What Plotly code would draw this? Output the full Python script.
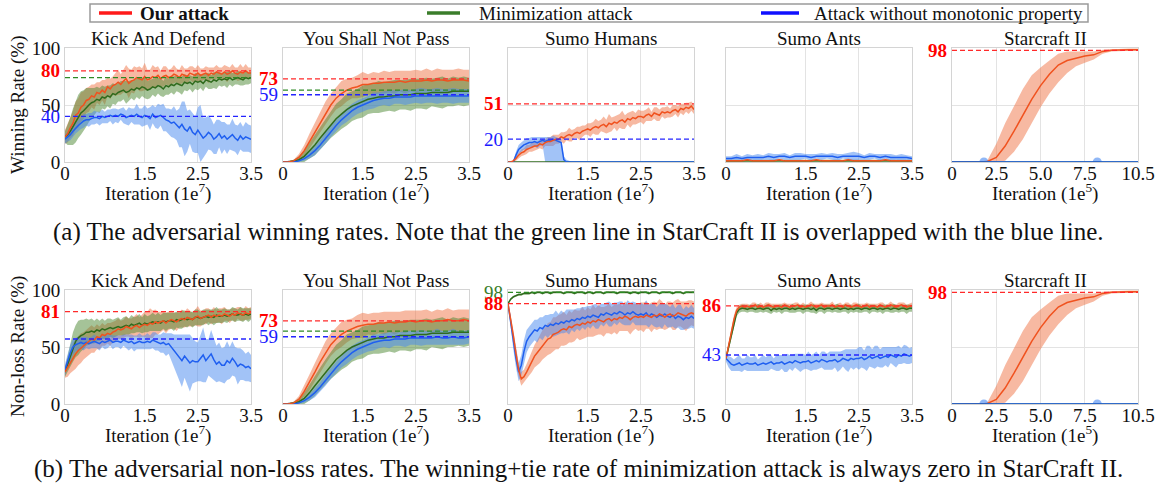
import plotly.graph_objects as go

# ---------------- data ----------------
X7 = [0.0, 0.1, 0.2, 0.3, 0.4, 0.5, 0.6, 0.7, 0.8, 0.9, 1.0, 1.1, 1.2, 1.3, 1.4, 1.5, 1.6, 1.7,
      1.8, 1.9, 2.0, 2.1, 2.2, 2.3, 2.4, 2.5, 2.6, 2.7, 2.8, 2.9, 3.0, 3.1, 3.2, 3.3, 3.4, 3.5]
X14 = [0.00, 0.05, 0.10, 0.15, 0.20, 0.25, 0.30, 0.35, 0.40, 0.45,
       0.50, 0.55, 0.60, 0.65, 0.70, 0.75, 0.80, 0.85, 0.90, 0.95,
       1.00, 1.05, 1.10, 1.15, 1.20, 1.25, 1.30, 1.35, 1.40, 1.45,
       1.50, 1.55, 1.60, 1.65, 1.70, 1.75, 1.80, 1.85, 1.90, 1.95,
       2.00, 2.05, 2.10, 2.15, 2.20, 2.25, 2.30, 2.35, 2.40, 2.45,
       2.50, 2.55, 2.60, 2.65, 2.70, 2.75, 2.80, 2.85, 2.90, 2.95,
       3.00, 3.05, 3.10, 3.15, 3.20, 3.25, 3.30, 3.35, 3.40, 3.45,
       3.50]
X5 = [0.0, 0.5, 1.0, 1.5, 2.0, 2.5, 3.0, 3.5, 4.0, 4.5, 5.0, 5.5, 6.0, 6.5, 7.0, 7.5, 8.0, 8.5,
      9.0, 9.5, 10.0, 10.5]

TICKS7 = [0, 1.5, 2.5, 3.5]
TICKS7_TEXT = ["0", "1.5", "2.5", "3.5"]
TICKS5 = [0, 2.5, 5.0, 7.5, 10.5]
TICKS5_TEXT = ["0", "2.5", "5.0", "7.5", "10.5"]

TITLES = ["Kick And Defend", "You Shall Not Pass", "Sumo Humans", "Sumo Ants", "Starcraft II"]
LEGEND_NAMES = ["Our attack", "Minimization attack", "Attack without monotonic property"]

# ---- (a) winning rates ----
KD_W_RED = [22, 25, 30, 34, 41, 43, 48, 50, 54, 55,
            58, 57, 61, 60, 63, 61, 66, 64, 67, 68,
            70, 68, 71, 73, 69, 71, 72, 74, 73, 72,
            75, 72, 73, 75, 74, 76, 73, 75, 76, 74,
            75, 77, 76, 74, 77, 76, 75, 78, 77, 76,
            78, 76, 77, 78, 76, 78, 77, 79, 78, 77,
            79, 77, 78, 80, 78, 77, 79, 78, 80, 78,
            78]
KD_W_RED_SD = [6, 8, 9, 11, 12, 13, 13, 12, 11, 11,
               10, 11, 9, 10, 9, 11, 8, 9, 8, 10,
               11, 9, 10, 12, 13, 10, 12, 9, 11, 10,
               12, 9, 8, 10, 9, 8, 7, 9, 8, 7,
               7, 8, 6, 7, 8, 6, 7, 6, 7, 6,
               7, 6, 5, 6, 7, 5, 6, 6, 5, 6,
               6, 7, 5, 6, 5, 6, 7, 5, 6, 5,
               5]
KD_W_GRN = [22, 24, 27, 31, 35, 40, 43, 45, 48, 50,
            52, 53, 55, 54, 57, 56, 58, 57, 60, 59,
            61, 62, 63, 61, 62, 64, 63, 65, 64, 66,
            65, 63, 64, 66, 65, 67, 66, 64, 67, 66,
            68, 67, 69, 68, 67, 70, 69, 70, 68, 71,
            70, 71, 69, 72, 71, 70, 72, 71, 73, 72,
            73, 72, 74, 72, 73, 74, 73, 72, 74, 73,
            74]
KD_W_GRN_SD = [5, 9, 12, 16, 18, 19, 19, 18, 17, 15,
               13, 12, 11, 11, 10, 10, 9, 10, 9, 9,
               8, 9, 8, 10, 9, 8, 9, 8, 9, 8,
               9, 8, 8, 7, 8, 7, 8, 7, 8, 7,
               7, 8, 7, 7, 8, 7, 7, 6, 7, 7,
               7, 6, 7, 6, 7, 6, 7, 7, 6, 6,
               6, 7, 6, 6, 5, 6, 6, 5, 6, 5,
               5]
KD_W_BLU = [20, 22, 24, 27, 30, 32, 34, 36, 37, 37,
            38, 39, 39, 38, 40, 39, 40, 41, 40, 41,
            40, 42, 41, 39, 40, 41, 40, 42, 40, 39,
            41, 40, 38, 42, 39, 40, 41, 39, 37, 36,
            34, 35, 32, 30, 33, 29, 27, 31, 26, 24,
            28, 25, 21, 23, 26, 24, 20, 22, 25, 21,
            23, 20, 22, 24, 21, 19, 23, 20, 22, 21,
            20]
KD_W_BLU_SD = [4, 4, 5, 5, 5, 5, 5, 6, 5, 6,
               5, 6, 5, 6, 6, 5, 6, 5, 7, 6,
               6, 5, 7, 6, 8, 6, 7, 9, 7, 8,
               9, 7, 10, 8, 9, 11, 9, 12, 10, 11,
               12, 14, 13, 17, 20, 24, 18, 15, 17, 16,
               20, 25, 18, 16, 15, 14, 13, 15, 12, 14,
               12, 13, 11, 14, 12, 13, 12, 11, 13, 12,
               12]

YS_W_RED = [0, 0, 1, 4, 10, 18, 26, 35, 43, 50, 56, 60, 63, 65, 66, 68, 68, 69, 69, 70, 70, 70, 71, 70, 71, 71, 71, 72, 71, 72, 72, 71, 72, 72, 72, 71]
YS_W_RED_SD = [0, 1, 1, 3, 5, 7, 8, 9, 10, 10, 10, 11, 10, 9, 10, 11, 9, 10, 9, 10, 9, 10, 9, 10, 9, 10, 9, 10, 9, 10, 9, 10, 9, 10, 9, 10]
YS_W_GRN = [0, 0, 1, 2, 5, 10, 15, 21, 27, 33, 38, 42, 46, 49, 51, 53, 55, 56, 57, 57, 58, 58, 59, 59, 59, 60, 60, 60, 61, 61, 61, 61, 62, 62, 62, 62]
YS_W_GRN_SD = [0, 1, 1, 3, 5, 7, 9, 10, 11, 12, 13, 13, 14, 13, 13, 14, 13, 13, 14, 13, 13, 14, 13, 13, 14, 13, 13, 14, 12, 13, 14, 12, 13, 12, 13, 12]
YS_W_BLU = [0, 0, 0, 1, 3, 6, 10, 15, 21, 27, 32, 37, 41, 45, 48, 50, 52, 54, 55, 56, 56, 57, 57, 57, 57, 58, 58, 58, 58, 58, 58, 58, 58, 58, 58, 58]
YS_W_BLU_SD = [0, 1, 1, 1, 2, 3, 4, 4, 5, 5, 5, 5, 6, 6, 6, 6, 6, 7, 6, 6, 7, 6, 6, 7, 6, 6, 7, 6, 6, 7, 6, 6, 7, 6, 6, 6]

SH_W_RED = [0, 0, 1, 3, 6, 8, 9, 11, 12, 13,
            14, 14, 16, 15, 17, 18, 18, 19, 20, 20,
            22, 21, 23, 24, 23, 25, 26, 25, 27, 28,
            29, 28, 30, 31, 30, 32, 33, 31, 34, 33,
            35, 34, 36, 37, 35, 38, 37, 39, 38, 40,
            40, 39, 41, 42, 40, 43, 42, 41, 44, 43,
            44, 43, 45, 46, 44, 47, 46, 48, 47, 49,
            46]
SH_W_RED_SD = [0, 0, 1, 2, 3, 3, 3, 4, 3, 4,
               4, 3, 4, 4, 3, 4, 4, 5, 4, 4,
               4, 5, 4, 6, 5, 4, 5, 6, 5, 4,
               5, 6, 5, 7, 6, 5, 7, 6, 8, 6,
               5, 7, 6, 8, 6, 5, 7, 6, 5, 6,
               5, 6, 5, 6, 4, 5, 6, 5, 4, 5,
               5, 4, 5, 4, 5, 4, 5, 4, 5, 4,
               4]
SH_W_GRN = [0] * 36
SH_W_BLU = [0, 0, 0, 6, 11, 13, 15, 16, 17, 17,
            18, 17, 18, 19, 18, 19, 19, 20, 19, 18,
            17, 2, 0, 0, 0, 0, 0, 0, 0, 0,
            0, 0, 0, 0, 0, 0, 0, 0, 0, 0,
            0, 0, 0, 0, 0, 0, 0, 0, 0, 0,
            0, 0, 0, 0, 0, 0, 0, 0, 0, 0,
            0, 0, 0, 0, 0, 0, 0, 0, 0, 0,
            0]
SH_W_BLU_UP = [0, 0, 0, 3, 4, 4, 4, 5, 4, 5,
               4, 5, 4, 3, 4, 3, 3, 3, 3, 3,
               3, 3, 2, 1, 0, 0, 0, 0, 0, 0,
               0, 0, 0, 0, 0, 0, 0, 0, 0, 0,
               0, 0, 0, 0, 0, 0, 0, 0, 0, 0,
               0, 0, 0, 0, 0, 0, 0, 0, 0, 0,
               0, 0, 0, 0, 0, 0, 0, 0, 0, 0,
               0]
SH_W_BLU_DN = [0, 0, 0, 3, 4, 4, 4, 5, 4, 5,
               4, 5, 4, 4, 18, 19, 19, 20, 19, 18,
               17, 2, 0, 0, 0, 0, 0, 0, 0, 0,
               0, 0, 0, 0, 0, 0, 0, 0, 0, 0,
               0, 0, 0, 0, 0, 0, 0, 0, 0, 0,
               0, 0, 0, 0, 0, 0, 0, 0, 0, 0,
               0, 0, 0, 0, 0, 0, 0, 0, 0, 0,
               0]

SA_W_RED = [1, 1, 1, 1, 2, 1, 1, 1, 1, 1, 2, 1, 1, 1, 1, 1, 1, 2, 1, 1, 1, 1, 1, 2, 1, 1, 1, 1, 1, 1, 2, 1, 1, 1, 1, 1]
SA_W_GRN = [1, 1, 1, 1, 1, 1, 1, 1, 1, 1, 1, 1, 1, 1, 1, 1, 1, 1, 1, 1, 1, 1, 1, 1, 1, 1, 1, 1, 1, 1, 1, 1, 1, 1, 1, 1]
SA_W_SD = [1] * 36
SA_W_BLU = [3, 3, 4, 3, 4, 4, 4, 4, 5, 4, 5, 5, 4, 5, 5, 5, 4, 5, 5, 5, 5, 4, 5, 5, 5, 5, 4, 5, 5, 4, 5, 4, 4, 4, 4, 3]
SA_W_BLU_SD = [2, 2, 3, 2, 3, 2, 3, 2, 3, 3, 2, 3, 2, 3, 3, 2, 3, 2, 3, 2, 3, 3, 2, 3, 4, 3, 2, 3, 2, 3, 2, 3, 2, 3, 2, 2]

SC_RED = [0, 0, 0, 0, 0.5, 4, 14, 27, 41, 55, 67, 77, 85, 89, 91, 93, 94, 97, 98, 98.5, 98.5, 98.5]
SC_RED_UP = [0, 0, 0, 0, 1, 12, 20, 22, 23, 21, 16, 12, 10, 8, 6, 4, 3, 1.5, 1, 1, 1, 1]
SC_RED_DN = [0, 0, 0, 0, 0.5, 4, 13, 18, 21, 21, 19, 17, 15, 11, 7, 6, 4, 2, 1, 1, 1, 1]
SC_ZERO = [0] * 22
SC_BLU_BUMPS_X = [1.8, 8.2]

# ---- (b) non-loss rates ----
KD_N_RED = [28, 32, 37, 41, 44, 47, 49, 51, 53, 55,
            57, 56, 59, 58, 61, 60, 62, 61, 63, 64,
            66, 65, 66, 68, 67, 66, 68, 69, 67, 69,
            70, 69, 71, 70, 72, 71, 72, 73, 71, 73,
            74, 73, 72, 74, 75, 74, 76, 75, 74, 76,
            77, 75, 76, 77, 78, 76, 78, 77, 78, 77,
            79, 78, 77, 79, 78, 80, 79, 78, 80, 79,
            80]
KD_N_RED_SD = [5, 8, 10, 12, 13, 13, 13, 12, 12, 12,
               12, 11, 11, 10, 10, 9, 9, 10, 9, 9,
               9, 8, 8, 9, 8, 9, 9, 10, 9, 10,
               11, 12, 13, 12, 11, 10, 9, 8, 9, 8,
               8, 7, 8, 7, 8, 7, 8, 7, 6, 7,
               9, 7, 6, 7, 6, 6, 7, 6, 6, 7,
               6, 5, 6, 5, 6, 5, 6, 5, 6, 5,
               5]
KD_N_GRN = [28, 35, 43, 50, 55, 58, 60, 61, 63, 63,
            64, 63, 65, 64, 66, 65, 66, 67, 66, 67,
            68, 67, 68, 69, 68, 70, 69, 70, 71, 69,
            71, 70, 71, 72, 71, 72, 71, 73, 72, 73,
            73, 72, 74, 73, 74, 75, 74, 75, 74, 76,
            76, 75, 76, 77, 76, 77, 76, 78, 77, 77,
            78, 77, 78, 79, 78, 78, 79, 78, 79, 78,
            79]
KD_N_GRN_SD = [4, 7, 10, 13, 14, 15, 14, 13, 12, 11,
               11, 10, 10, 9, 9, 8, 9, 8, 8, 8,
               8, 7, 8, 8, 7, 8, 7, 7, 8, 7,
               8, 7, 7, 8, 7, 8, 7, 7, 8, 7,
               7, 8, 7, 7, 8, 7, 7, 6, 7, 7,
               7, 6, 7, 6, 7, 6, 7, 7, 6, 6,
               6, 6, 5, 6, 6, 5, 6, 6, 5, 6,
               5]
KD_N_BLU = [30, 38, 45, 50, 52, 53, 54, 53, 54, 53,
            54, 55, 54, 53, 55, 54, 55, 56, 54, 55,
            55, 54, 56, 55, 54, 55, 53, 54, 55, 54,
            54, 55, 54, 56, 55, 54, 53, 54, 52, 53,
            50, 47, 44, 41, 38, 42, 39, 36, 38, 37,
            37, 40, 43, 38, 41, 44, 39, 35, 37, 34,
            34, 38, 36, 40, 37, 33, 35, 34, 32, 33,
            31]
KD_N_BLU_SD = [5, 6, 7, 7, 6, 6, 5, 6, 5, 5,
               5, 6, 5, 6, 5, 6, 6, 5, 6, 5,
               5, 6, 5, 6, 7, 6, 7, 6, 7, 6,
               6, 7, 6, 7, 8, 7, 8, 9, 10, 9,
               12, 14, 17, 20, 23, 19, 22, 25, 20, 18,
               17, 20, 24, 19, 16, 21, 18, 16, 17, 15,
               16, 17, 14, 15, 13, 16, 14, 13, 12, 13,
               12]

YS_N_RED = [0, 0, 1, 4, 11, 19, 28, 37, 45, 52, 57, 61, 64, 66, 68, 69, 70, 70, 71, 71, 72, 71, 72, 72, 73, 72, 73, 73, 72, 73, 73, 74, 73, 73, 74, 73]
YS_N_RED_SD = [0, 1, 1, 3, 5, 7, 8, 9, 10, 10, 10, 11, 10, 9, 10, 11, 9, 10, 9, 10, 9, 10, 9, 10, 9, 10, 9, 10, 9, 10, 9, 10, 9, 10, 9, 10]
YS_N_GRN = [0, 0, 1, 2, 5, 10, 16, 22, 28, 34, 39, 43, 47, 50, 52, 54, 56, 57, 58, 58, 59, 59, 60, 60, 60, 61, 61, 61, 62, 62, 62, 62, 63, 63, 63, 63]
YS_N_GRN_SD = [0, 1, 1, 3, 5, 7, 9, 10, 11, 12, 13, 13, 14, 13, 13, 14, 13, 13, 14, 13, 13, 14, 13, 13, 14, 13, 13, 14, 12, 13, 14, 12, 13, 12, 13, 12]
YS_N_BLU = [0, 0, 0, 1, 3, 6, 10, 15, 21, 27, 32, 37, 41, 45, 48, 50, 52, 54, 55, 56, 56, 57, 57, 57, 58, 58, 58, 58, 58, 59, 58, 58, 59, 58, 58, 59]
YS_N_BLU_SD = [0, 1, 1, 1, 2, 3, 4, 4, 5, 5, 5, 5, 6, 6, 6, 6, 6, 7, 6, 6, 7, 6, 6, 7, 6, 6, 7, 6, 6, 7, 6, 6, 7, 6, 6, 6]

SH_N_RED = [88, 75, 60, 44, 30, 22, 24, 28, 33, 37,
            42, 45, 48, 52, 54, 57, 58, 61, 62, 63,
            65, 66, 65, 68, 67, 69, 70, 69, 71, 70,
            72, 71, 73, 72, 74, 73, 72, 74, 75, 73,
            75, 74, 76, 75, 77, 76, 74, 76, 77, 76,
            77, 76, 78, 77, 76, 78, 77, 79, 78, 76,
            78, 79, 77, 78, 80, 79, 78, 77, 79, 80,
            79]
SH_N_RED_SD = [0, 3, 5, 6, 6, 6, 6, 7, 8, 9,
               10, 11, 12, 13, 13, 14, 14, 15, 14, 15,
               14, 15, 13, 14, 13, 14, 12, 13, 14, 12,
               13, 12, 14, 12, 13, 12, 13, 12, 13, 12,
               12, 13, 12, 11, 13, 12, 13, 12, 11, 12,
               12, 13, 12, 11, 13, 12, 12, 13, 12, 11,
               12, 11, 12, 13, 12, 11, 12, 13, 12, 11,
               11]
SH_N_GRN = [88, 92, 94, 95, 96, 96, 97, 97, 97, 98,
            97, 98, 98, 97, 98, 98, 97, 98, 98, 98,
            98, 97, 98, 98, 98, 97, 98, 98, 98, 97,
            98, 98, 97, 98, 98, 98, 97, 98, 98, 98,
            98, 97, 98, 98, 98, 98, 97, 98, 98, 97,
            98, 98, 98, 97, 98, 98, 98, 97, 98, 98,
            98, 98, 97, 98, 98, 98, 97, 98, 98, 98,
            98]
SH_N_GRN_SD = [1] * 71
SH_N_BLU = [88, 72, 55, 40, 28, 34, 46, 55, 59, 62,
            65, 64, 67, 66, 69, 68, 70, 69, 71, 70,
            72, 71, 73, 72, 74, 73, 75, 74, 76, 75,
            77, 76, 78, 77, 76, 79, 78, 80, 79, 78,
            80, 79, 81, 80, 78, 80, 79, 81, 79, 78,
            79, 78, 80, 77, 79, 78, 76, 78, 77, 79,
            77, 76, 78, 75, 77, 76, 74, 76, 75, 77,
            75]
SH_N_BLU_SD = [0, 5, 7, 8, 8, 9, 10, 10, 9, 9,
               9, 10, 9, 10, 9, 10, 9, 10, 11, 9,
               10, 9, 10, 11, 9, 10, 9, 10, 9, 10,
               9, 10, 9, 11, 10, 9, 10, 9, 11, 10,
               9, 10, 9, 10, 9, 11, 10, 9, 10, 9,
               10, 9, 11, 10, 9, 10, 9, 10, 11, 9,
               10, 9, 10, 9, 10, 11, 9, 10, 9, 10,
               9]

SA_N_RED = [40, 52, 63, 74, 82, 85, 86, 85, 86, 85,
            86, 87, 85, 86, 85, 86, 87, 86, 85, 86,
            86, 85, 87, 86, 85, 86, 86, 87, 85, 86,
            85, 86, 87, 86, 85, 86, 87, 85, 86, 86,
            87, 85, 86, 86, 85, 87, 86, 85, 86, 87,
            86, 85, 86, 87, 85, 86, 86, 85, 87, 86,
            85, 86, 87, 86, 85, 86, 87, 86, 85, 86,
            86]
SA_N_RED_SD = [2, 3, 4, 4, 3, 2, 2, 3, 2, 2,
               3, 2, 2, 3, 2, 3, 2, 2, 3, 2,
               2, 3, 2, 2, 3, 2, 3, 2, 2, 3,
               2, 2, 3, 2, 3, 2, 2, 3, 2, 2,
               3, 2, 2, 3, 2, 2, 3, 2, 3, 2,
               2, 3, 2, 2, 3, 2, 2, 3, 2, 3,
               2, 2, 3, 2, 2, 3, 2, 3, 2, 2,
               3]
SA_N_GRN = [40, 50, 61, 72, 80, 83, 84, 84, 83, 84,
            84, 83, 84, 84, 83, 84, 84, 82, 84, 83,
            84, 83, 84, 84, 83, 84, 83, 84, 84, 83,
            84, 84, 83, 84, 82, 84, 84, 83, 84, 84,
            83, 84, 84, 83, 84, 84, 83, 84, 83, 84,
            84, 83, 84, 84, 83, 84, 84, 83, 84, 83,
            84, 84, 83, 84, 84, 83, 84, 84, 83, 84,
            84]
SA_N_GRN_SD = [2, 3, 4, 4, 3, 3, 3, 3, 3, 3,
               3, 3, 4, 3, 3, 3, 4, 3, 3, 3,
               3, 4, 3, 3, 3, 4, 3, 3, 3, 4,
               3, 3, 3, 4, 3, 3, 3, 4, 3, 3,
               3, 3, 4, 3, 3, 3, 4, 3, 3, 3,
               4, 3, 3, 3, 4, 3, 3, 3, 3, 4,
               3, 3, 3, 4, 3, 3, 3, 3, 4, 3,
               3]
SA_N_BLU = [40, 37, 35, 34, 35, 36, 34, 35, 36, 35,
            35, 36, 34, 35, 36, 35, 36, 37, 35, 36,
            36, 37, 35, 36, 37, 36, 38, 37, 36, 37,
            37, 38, 36, 37, 38, 37, 39, 38, 37, 38,
            38, 39, 37, 38, 40, 39, 38, 40, 39, 40,
            40, 41, 39, 40, 42, 40, 41, 42, 40, 41,
            42, 41, 43, 42, 41, 43, 42, 44, 43, 42,
            43]
SA_N_BLU_SD = [3, 5, 6, 5, 6, 7, 6, 5, 7, 6,
               6, 7, 5, 6, 7, 6, 7, 6, 5, 7,
               7, 6, 7, 8, 6, 7, 6, 7, 8, 7,
               6, 8, 7, 7, 8, 6, 7, 8, 7, 8,
               8, 7, 9, 8, 7, 9, 10, 8, 9, 8,
               10, 9, 8, 11, 9, 8, 10, 9, 8, 9,
               8, 9, 7, 8, 9, 8, 7, 8, 8, 7,
               7]

# dashed reference levels: (value, series, label)
REF_W = [
    [(80, "red", "80"), (74, "green", ""), (40, "blue", "40")],
    [(73, "red", "73"), (63, "green", ""), (59, "blue", "59")],
    [(51, "red", "51"), (20, "blue", "20")],
    [],
    [(98, "red", "98")],
]
REF_N = [
    [(81, "red", "81"), (57, "blue", "")],
    [(73, "red", "73"), (64, "green", ""), (59, "blue", "59")],
    [(98, "green", "98"), (88, "red", "88")],
    [(86, "red", "86"), (43, "blue", "43")],
    [(98, "red", "98")],
]

CAPTION_A = "(a) The adversarial winning rates. Note that the green line in StarCraft II is overlapped with the blue line."
CAPTION_B = "(b) The adversarial non-loss rates. The winning+tie rate of minimization attack is always zero in StarCraft II."
YLABELS = ["Winning Rate (%)", "Non-loss Rate (%)"]


def s(key, xs, mean, up, dn=None):
    return (key, xs, mean, up, up if dn is None else dn)


PANELS_W = [
    (3.5, [s("red", X14, KD_W_RED, KD_W_RED_SD), s("green", X14, KD_W_GRN, KD_W_GRN_SD), s("blue", X14, KD_W_BLU, KD_W_BLU_SD)]),
    (3.5, [s("red", X7, YS_W_RED, YS_W_RED_SD), s("green", X7, YS_W_GRN, YS_W_GRN_SD), s("blue", X7, YS_W_BLU, YS_W_BLU_SD)]),
    (3.5, [s("red", X14, SH_W_RED, SH_W_RED_SD), s("green", X7, SH_W_GRN, SH_W_GRN), s("blue", X14, SH_W_BLU, SH_W_BLU_UP, SH_W_BLU_DN)]),
    (3.5, [s("red", X7, SA_W_RED, SA_W_SD), s("green", X7, SA_W_GRN, SA_W_SD), s("blue", X7, SA_W_BLU, SA_W_BLU_SD)]),
    (10.5, [s("red", X5, SC_RED, SC_RED_UP, SC_RED_DN), s("green", X5, SC_ZERO, SC_ZERO), s("blue", X5, SC_ZERO, SC_ZERO)]),
]
PANELS_N = [
    (3.5, [s("red", X14, KD_N_RED, KD_N_RED_SD), s("green", X14, KD_N_GRN, KD_N_GRN_SD), s("blue", X14, KD_N_BLU, KD_N_BLU_SD)]),
    (3.5, [s("red", X7, YS_N_RED, YS_N_RED_SD), s("green", X7, YS_N_GRN, YS_N_GRN_SD), s("blue", X7, YS_N_BLU, YS_N_BLU_SD)]),
    (3.5, [s("red", X14, SH_N_RED, SH_N_RED_SD), s("green", X14, SH_N_GRN, SH_N_GRN_SD), s("blue", X14, SH_N_BLU, SH_N_BLU_SD)]),
    (3.5, [s("red", X14, SA_N_RED, SA_N_RED_SD), s("green", X14, SA_N_GRN, SA_N_GRN_SD), s("blue", X14, SA_N_BLU, SA_N_BLU_SD)]),
    (10.5, [s("red", X5, SC_RED, SC_RED_UP, SC_RED_DN), s("green", X5, SC_ZERO, SC_ZERO), s("blue", X5, SC_ZERO, SC_ZERO)]),
]

# ---------------- styling / layout ----------------
W, H = 1156, 487
FONT = "Liberation Serif"
FS = 19
CAP_FS = 25
COL = {
    "red": dict(line="#f0521f", fill="rgba(240,115,70,0.5)", ref="#ff2a2a", lab="#ff0000"),
    "green": dict(line="#2f6b1d", fill="rgba(75,135,50,0.5)", ref="#2c8a24", lab="#3a7d2a"),
    "blue": dict(line="#1f5ff0", fill="rgba(70,135,240,0.5)", ref="#2424ff", lab="#1a1aff"),
}
LEG_COL = {"red": "#ff1a1a", "green": "#3a7d2a", "blue": "#1010ff"}
PANEL_LEFT = [65, 283, 508, 726, 952]
PANEL_W = 186
ROW_TOP = [48, 290]
ROW_H = 114


def fx(p):
    return p / W


def fy(p):
    return 1 - p / H


fig = go.Figure()
annotations = []
shapes = []
layout = {}

rows = [(PANELS_W, REF_W), (PANELS_N, REF_N)]
n = 0
for r, (panels, refs) in enumerate(rows):
    for c, (xmax, series) in enumerate(panels):
        n += 1
        xa = "x" if n == 1 else f"x{n}"
        ya = "y" if n == 1 else f"y{n}"
        # bands
        for key, xs, mean, up, dn in series:
            hi = [min(m + u, 100) for m, u in zip(mean, up)]
            lo = [max(m - d, 0) for m, d in zip(mean, dn)]
            fig.add_trace(go.Scatter(
                x=list(xs) + list(xs[::-1]), y=hi + lo[::-1], fill="toself",
                fillcolor=COL[key]["fill"], line=dict(width=0), mode="lines",
                hoverinfo="skip", showlegend=False, xaxis=xa, yaxis=ya))
        if c == 4:
            fig.add_trace(go.Scatter(
                x=SC_BLU_BUMPS_X, y=[0] * len(SC_BLU_BUMPS_X), mode="markers",
                marker=dict(size=9, color="rgba(70,135,240,0.6)"), hoverinfo="skip",
                showlegend=False, xaxis=xa, yaxis=ya))
        # mean lines
        order = [series[1], series[2], series[0]] if c != 4 else [series[0], series[1], series[2]]
        for key, xs, mean, up, dn in order:
            fig.add_trace(go.Scatter(
                x=xs, y=mean, mode="lines", line=dict(color=COL[key]["line"], width=1.5),
                hoverinfo="skip", showlegend=False, xaxis=xa, yaxis=ya))
        # reference dashed lines + labels
        for val, key, lab in refs[c]:
            fig.add_trace(go.Scatter(
                x=[0, xmax], y=[val, val], mode="lines",
                line=dict(color=COL[key]["ref"], width=1.3, dash="5px,3px"),
                hoverinfo="skip", showlegend=False, xaxis=xa, yaxis=ya))
            if lab:
                bold = key == "red"
                annotations.append(dict(
                    x=-3 / PANEL_W, xref=f"{xa} domain", y=val, yref=ya, xanchor="right",
                    yanchor="middle", showarrow=False,
                    text=f"<b>{lab}</b>" if bold else lab,
                    font=dict(family=FONT, size=FS, color=COL[key]["lab"])))
        x0 = PANEL_LEFT[c]
        top = ROW_TOP[r]
        tv, tt = (TICKS5, TICKS5_TEXT) if c == 4 else (TICKS7, TICKS7_TEXT)
        axkey = "xaxis" if n == 1 else f"xaxis{n}"
        aykey = "yaxis" if n == 1 else f"yaxis{n}"
        layout[axkey] = dict(
            domain=[fx(x0), fx(x0 + PANEL_W)], anchor=ya, range=[0, xmax], automargin=False,
            tickvals=tv, ticktext=tt, showgrid=True, gridcolor="#e3e3e3", gridwidth=1,
            showline=True, linecolor="#d4d4d4", linewidth=1, mirror=True, ticks="",
            ticklabelstandoff=-6,
            zeroline=False, tickfont=dict(family=FONT, size=FS, color="#111"), fixedrange=True)
        layout[aykey] = dict(
            domain=[fy(top + ROW_H), fy(top)], anchor=xa, range=[0, 100], automargin=False,
            tickvals=[0, 50, 100], showticklabels=(c == 0), showgrid=True,
            gridcolor="#e3e3e3", gridwidth=1, showline=True, linecolor="#d4d4d4",
            linewidth=1, mirror=True, ticks="", zeroline=False,
            tickfont=dict(family=FONT, size=FS, color="#111"), fixedrange=True)
        # panel title
        annotations.append(dict(
            x=fx(x0 + PANEL_W / 2), y=fy(top - 10), xref="paper", yref="paper",
            xanchor="center", yanchor="middle", showarrow=False, text=TITLES[c],
            font=dict(family=FONT, size=FS, color="#111")))
        # x axis title
        expo = "5" if c == 4 else "7"
        annotations.append(dict(
            x=fx(x0 + PANEL_W / 2), y=fy(top + ROW_H + 30), xref="paper", yref="paper",
            xanchor="center", yanchor="middle", showarrow=False,
            text=f"Iteration (1e<sup>{expo}</sup>)",
            font=dict(family=FONT, size=FS, color="#111")))
    # y axis title
    annotations.append(dict(
        x=fx(18), y=fy(ROW_TOP[r] + ROW_H / 2), xref="paper", yref="paper",
        xanchor="center", yanchor="middle", textangle=-90, showarrow=False,
        text=YLABELS[r], font=dict(family=FONT, size=FS, color="#111")))

# captions
annotations.append(dict(x=0.5, y=fy(232), xref="paper", yref="paper", xanchor="center",
                        yanchor="middle", showarrow=False, text=CAPTION_A,
                        font=dict(family=FONT, size=CAP_FS, color="#111")))
annotations.append(dict(x=0.5, y=fy(469), xref="paper", yref="paper", xanchor="center",
                        yanchor="middle", showarrow=False, text=CAPTION_B,
                        font=dict(family=FONT, size=CAP_FS, color="#111")))

# legend box (drawn manually)
shapes.append(dict(type="rect", xref="paper", yref="paper", x0=fx(90), x1=fx(1088),
                   y0=fy(22), y1=fy(4), line=dict(color="#9a9a9a", width=1.5),
                   fillcolor="white", layer="above"))
LEG_POS = [(99, 132, 138), (427, 460, 477), (761, 799, 812)]
for (l0, l1, tx), key, name in zip(LEG_POS, ["red", "green", "blue"], LEGEND_NAMES):
    shapes.append(dict(type="line", xref="paper", yref="paper", x0=fx(l0), x1=fx(l1),
                       y0=fy(13), y1=fy(13), line=dict(color=LEG_COL[key], width=3.5)))
    annotations.append(dict(x=fx(tx), y=fy(13), xref="paper", yref="paper", xanchor="left",
                            yanchor="middle", showarrow=False,
                            text=f"<b>{name}</b>" if key == "red" else name,
                            font=dict(family=FONT, size=FS, color="#111")))

fig.update_layout(
    width=W, height=H, margin=dict(l=0, r=0, t=0, b=0, autoexpand=False),
    paper_bgcolor="white", plot_bgcolor="white", showlegend=False,
    annotations=annotations, shapes=shapes, **layout)

fig.write_html("out.html", config={"displayModeBar": False},
               post_script="document.body.style.margin='0px';document.body.style.overflow='hidden';")
